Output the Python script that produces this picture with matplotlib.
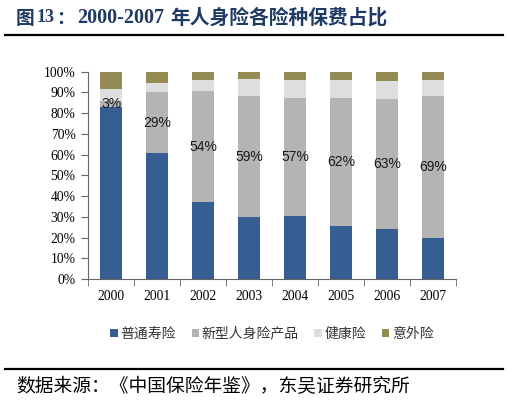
import numpy as np
import matplotlib.pyplot as plt
from matplotlib.ticker import PercentFormatter

# Data (percent of total premium)
years = ["2000", "2001", "2002", "2003", "2004", "2005", "2006", "2007"]
ordinary_life = [83.0, 60.6, 37.0, 29.7, 30.5, 25.7, 24.0, 19.6]
new_products = [3.0, 29.4, 53.7, 58.6, 57.0, 61.8, 62.7, 68.8]
health = [5.5, 4.4, 5.1, 8.0, 8.5, 8.5, 9.0, 7.6]
accident = [8.5, 5.6, 4.2, 3.7, 4.0, 4.0, 4.3, 4.0]
new_labels = ["3%", "29%", "54%", "59%", "57%", "62%", "63%", "69%"]
series_names = ["普通寿险", "新型人身险产品", "健康险", "意外险"]

colors = ["#375E92", "#B4B4B4", "#DEDEDE", "#948A54"]
cjk = ["Noto Sans CJK SC", "DejaVu Sans"]
navy = "#1F3A64"

fig = plt.figure(figsize=(5.09, 4.03), dpi=100)
ax = fig.add_axes([88 / 509, (403 - 279) / 403, (456 - 88) / 509, (279 - 71.7) / 403])

x = np.arange(len(years))
w = 0.46
bottom = np.zeros(len(years))
bars = []
for vals, c, name in zip([ordinary_life, new_products, health, accident], colors, series_names):
    b = ax.bar(x, vals, w, bottom=bottom, color=c, label=name, zorder=2)
    bars.append(b)
    bottom += np.array(vals)

ax.bar_label(bars[1], labels=new_labels, label_type="center", fontsize=10,
             family="Liberation Sans", color="#1a1a1a")

ax.set_xlim(-0.5, len(years) - 0.5)
ax.set_ylim(0, 100)
ax.set_yticks(np.arange(0, 101, 10))
ax.yaxis.set_major_formatter(PercentFormatter(decimals=0))
ax.set_xticks(x)
ax.set_xticklabels(years)
ax.set_xticks(np.arange(-0.5, len(years)), minor=True)
ax.tick_params(axis="x", which="major", length=0, pad=8)
ax.tick_params(axis="x", which="minor", length=5, direction="out", color="#666666")
ax.tick_params(axis="y", length=5, direction="out", color="#666666", pad=4)
for lab in ax.get_xticklabels() + ax.get_yticklabels():
    lab.set_family("Liberation Serif")
    lab.set_fontsize(9.8)

for s in ["top", "right"]:
    ax.spines[s].set_visible(False)
for s in ["left", "bottom"]:
    ax.spines[s].set_color("#666666")

leg = ax.legend(loc="upper center", bbox_to_anchor=(0.5, -0.17), ncol=4, frameon=False,
                prop={"family": cjk, "size": 10}, handlelength=0.55, handleheight=0.55,
                handletextpad=0.2, columnspacing=1.1)
for t in leg.get_texts():
    t.set_color("#333333")

# Title pieces
ty = 1 - 18 / 403
fig.text(16 / 509, ty, "图", family=cjk, fontsize=13.5, fontweight="bold", color=navy, va="center")
fig.text(37 / 509, ty, "13", family="Liberation Serif", fontsize=13, fontweight="bold",
         color=navy, va="center")
fig.text(56 / 509, ty, "：", family=cjk, fontsize=13, fontweight="bold", color=navy, va="center")
fig.text(77 / 509, ty, "2000-2007", family="Liberation Serif", fontsize=14.5,
         fontweight="bold", color=navy, va="center")
fig.text(170 / 509, ty, "年人身险各险种保费占比", family=cjk, fontsize=14.2,
         fontweight="bold", color=navy, va="center")

# Rules and source
fig.add_artist(plt.Line2D([5 / 509, 503 / 509], [1 - 35 / 403] * 2, color="black", lw=1.6))
fig.add_artist(plt.Line2D([5 / 509, 503 / 509], [1 - 369 / 403] * 2, color="black", lw=1.6))
fig.text(16 / 509, 1 - 387 / 403, "数据来源：《中国保险年鉴》，东吴证券研究所", family=cjk,
         fontsize=13.5, color="black", va="center")

fig.savefig("out.png", dpi=100)
